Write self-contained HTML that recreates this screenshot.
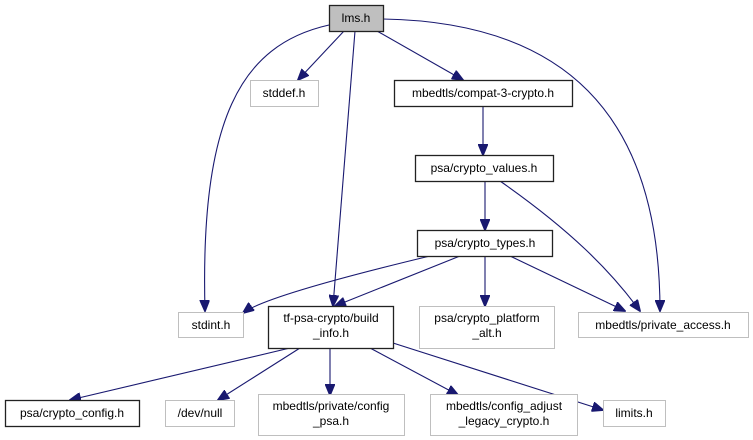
<!DOCTYPE html>
<html><head><meta charset="utf-8"><style>
html,body{margin:0;padding:0;background:#fff;}
svg{display:block;}
text{font-family:"Liberation Sans",sans-serif;font-size:12px;fill:#000;}
</style></head><body>
<svg width="753" height="440" viewBox="0 0 753 440" xmlns="http://www.w3.org/2000/svg">
<defs>
<marker id="a" markerWidth="12" markerHeight="10" refX="11" refY="5" orient="auto" markerUnits="userSpaceOnUse">
<path d="M0,0 L12,5 L0,10 Z" fill="#191970" stroke="#191970"/>
</marker>
</defs>
<g fill="none" stroke="#191970" stroke-width="1.1" marker-end="url(#a)">
<path d="M329,25 C240,45 200,120 205,311"/>
<path d="M355,31 L333,306"/>
<path d="M344,31 L298,80"/>
<path d="M377,31 L463,80"/>
<path d="M383,19 C560,22 660,110 660,311"/>
<path d="M483,106 L483,155"/>
<path d="M485,181 L485,230"/>
<path d="M500,181 C570,230 610,270 640,311"/>
<path d="M430,256 C330,280 260,300 243,313"/>
<path d="M460,256 L335,306"/>
<path d="M485,256 L485,306"/>
<path d="M510,256 L625,311"/>
<path d="M290,348 L70,400"/>
<path d="M300,348 L218,400"/>
<path d="M330,348 L330,395"/>
<path d="M370,348 L458,395"/>
<path d="M393,343 L603,410"/>
</g>
<g stroke-width="1">
<rect x="329.5" y="5.5" width="54" height="26" fill="#bfbfbf" stroke="#222" stroke-width="1.3"/>
<rect x="250.5" y="80.5" width="68" height="26" fill="#fff" stroke="#bfbfbf"/>
<rect x="394.5" y="80.5" width="178" height="26" fill="#fff" stroke="#222" stroke-width="1.3"/>
<rect x="415.5" y="155.5" width="138" height="26" fill="#fff" stroke="#222" stroke-width="1.3"/>
<rect x="417.5" y="230.5" width="135" height="26" fill="#fff" stroke="#222" stroke-width="1.3"/>
<rect x="178.5" y="312.5" width="65" height="25" fill="#fff" stroke="#bfbfbf"/>
<rect x="268.5" y="306.5" width="125" height="42" fill="#fff" stroke="#222" stroke-width="1.3"/>
<rect x="419.5" y="306.5" width="135" height="42" fill="#fff" stroke="#bfbfbf"/>
<rect x="578.5" y="312.5" width="170" height="25" fill="#fff" stroke="#bfbfbf"/>
<rect x="5.5" y="400.5" width="134" height="26" fill="#fff" stroke="#222" stroke-width="1.3"/>
<rect x="165.5" y="400.5" width="69" height="26" fill="#fff" stroke="#bfbfbf"/>
<rect x="258.5" y="394.5" width="146" height="41" fill="#fff" stroke="#bfbfbf"/>
<rect x="430.5" y="394.5" width="147" height="41" fill="#fff" stroke="#bfbfbf"/>
<rect x="603.5" y="400.5" width="62" height="26" fill="#fff" stroke="#bfbfbf"/>
</g>
<g text-anchor="middle">
<text x="356" y="22">lms.h</text>
<text x="284" y="97">stddef.h</text>
<text x="483" y="97">mbedtls/compat-3-crypto.h</text>
<text x="484" y="172">psa/crypto_values.h</text>
<text x="485" y="247">psa/crypto_types.h</text>
<text x="211" y="329">stdint.h</text>
<text x="331" y="322">tf-psa-crypto/build</text>
<text x="331" y="337">_info.h</text>
<text x="487" y="322">psa/crypto_platform</text>
<text x="487" y="337">_alt.h</text>
<text x="663" y="329">mbedtls/private_access.h</text>
<text x="72" y="417">psa/crypto_config.h</text>
<text x="200" y="417">/dev/null</text>
<text x="331" y="410">mbedtls/private/config</text>
<text x="331" y="425">_psa.h</text>
<text x="504" y="410">mbedtls/config_adjust</text>
<text x="504" y="425">_legacy_crypto.h</text>
<text x="634" y="417">limits.h</text>
</g>
</svg>
</body></html>
